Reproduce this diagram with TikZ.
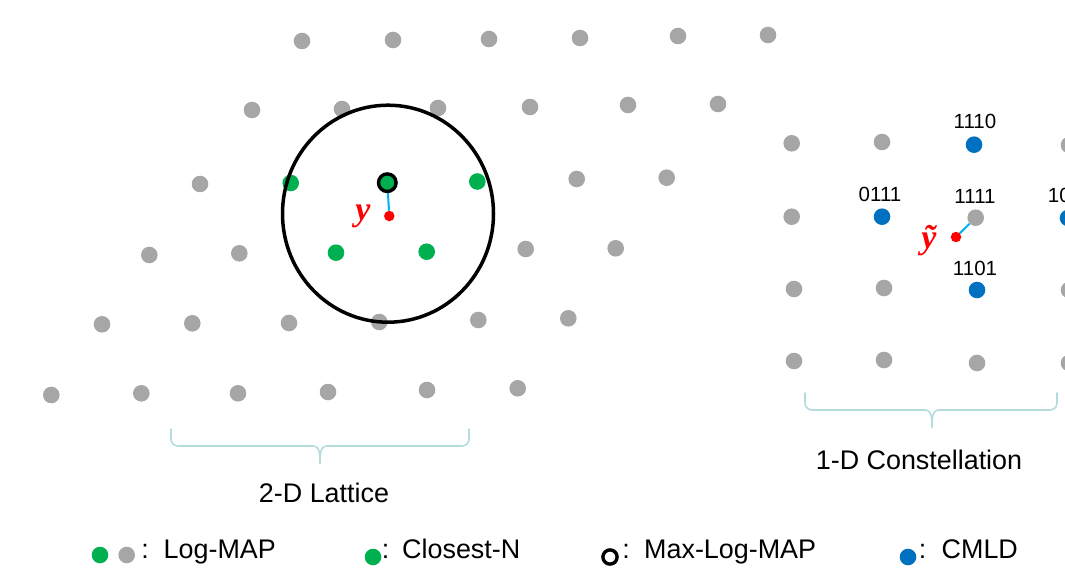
\documentclass[tikz,border=0pt]{standalone}
\usepackage{fontspec}
\setmainfont{Liberation Sans}
\newfontfamily\tnr{Liberation Serif}
\definecolor{dotgray}{HTML}{A6A6A6}
\definecolor{dotgreen}{HTML}{00B050}
\definecolor{dotblue}{HTML}{0070C0}
\definecolor{cyanline}{HTML}{00B0F0}
\definecolor{bracecol}{HTML}{B4DCDE}
\begin{document}
\begin{tikzpicture}[x=1pt,y=-1pt,
  gdot/.style={circle,fill=dotgray,inner sep=0,minimum size=16.6pt},
  grdot/.style={gdot,fill=dotgreen},
  bdot/.style={gdot,fill=dotblue},
  mlring/.style={circle,draw=black,line width=3.4pt,fill=dotgreen,inner sep=0,minimum size=17.6pt},
  legring/.style={circle,draw=black,line width=3.4pt,fill=white,inner sep=0,minimum size=14.2pt},
  rdot/.style={circle,fill=red,inner sep=0,minimum size=10.5pt},
  bigtxt/.style={font=\fontsize{26.9}{30}\selectfont,inner sep=0},
  numtxt/.style={font=\fontsize{20.5}{24}\selectfont,inner sep=0},
  ylab/.style={text=red,font=\fontsize{34}{38}\selectfont\tnr\bfseries\itshape,inner sep=0},
  conn/.style={cyanline,line width=2pt},
  bracepath/.style={bracecol,line width=1.6pt,line cap=round}]
\useasboundingbox (0,0) rectangle (1065,572);
\clip (0,0) rectangle (1065,572);

% ---- 2-D lattice ----
\node[gdot] (L11) at (302,41) {};
\node[gdot] (L12) at (393,40) {};
\node[gdot] (L13) at (489,39) {};
\node[gdot] (L14) at (580,38) {};
\node[gdot] (L15) at (678,36) {};
\node[gdot] (L16) at (768,35) {};

\node[gdot] (L21) at (252,110) {};
\node[gdot] (L22) at (342,109) {};
\node[gdot] (L23) at (438,108) {};
\node[gdot] (L24) at (530,107) {};
\node[gdot] (L25) at (628,105) {};
\node[gdot] (L26) at (718,104) {};

\node[gdot]  (L31) at (200,184) {};
\node[grdot] (L32) at (290.7,183) {};
\node[mlring] (L33) at (387.3,182.7) {};
\node[grdot] (L34) at (477.3,181.5) {};
\node[gdot]  (L35) at (576.7,179) {};
\node[gdot]  (L36) at (666.7,177.7) {};

\node[gdot]  (L41) at (149.3,255) {};
\node[gdot]  (L42) at (239.3,253.3) {};
\node[grdot] (L43) at (336,252.7) {};
\node[grdot] (L44) at (426.7,251.7) {};
\node[gdot]  (L45) at (525.7,249) {};
\node[gdot]  (L46) at (615.7,248.3) {};

\node[gdot] (L51) at (102,324.3) {};
\node[gdot] (L52) at (192.3,323.3) {};
\node[gdot] (L53) at (289,323) {};
\node[gdot] (L54) at (379.3,322) {};
\node[gdot] (L55) at (478.3,320) {};
\node[gdot] (L56) at (568.3,318.3) {};

\node[gdot] (L61) at (51.3,395) {};
\node[gdot] (L62) at (141.3,393.3) {};
\node[gdot] (L63) at (238,393.3) {};
\node[gdot] (L64) at (328,392) {};
\node[gdot] (L65) at (427,390) {};
\node[gdot] (L66) at (517.7,388.3) {};

% sphere
\draw[line width=3.5pt] (388,213.7) ellipse [x radius=105.5pt, y radius=108.5pt];

% received point y
\node[rdot] (y) at (389.3,216) {};
\draw[conn] (L33) -- (y);
\node[ylab] (ylabel) at (363,216) {y};

% ---- 1-D constellation ----
\node[gdot] (C11) at (791.7,143.3) {};
\node[gdot] (C12) at (882,142) {};
\node[bdot] (C13) at (974,144.7) {};
\node[gdot] (C14) at (1069,145) {};

\node[gdot] (C21) at (791.7,216.7) {};
\node[bdot] (C22) at (882,216.7) {};
\node[gdot] (C23) at (975.7,217.7) {};
\node[bdot] (C24) at (1068,218) {};

\node[gdot] (C31) at (794,289) {};
\node[gdot] (C32) at (884,288) {};
\node[bdot] (C33) at (977,290) {};
\node[gdot] (C34) at (1069,290) {};

\node[gdot] (C41) at (794,361) {};
\node[gdot] (C42) at (884,360) {};
\node[gdot] (C43) at (977,363) {};
\node[gdot] (C44) at (1069,363) {};

\node[numtxt] (t1110) at (975,121) {1110};
\node[numtxt] (t0111) at (880,194.3) {0111};
\node[numtxt] (t1111) at (975,196.7) {1111};
\node[numtxt] (t1101) at (975,268.3) {1101};
\node[numtxt] (t1011) at (1070,195) {1011};

\node[rdot] (yt) at (956,237) {};
\draw[conn] (yt) -- (C23);
\node[ylab] (ytlabel) at (929,241) {ỹ};

% ---- braces ----
\coordinate (bl1) at (171,429);
\coordinate (bl2) at (469,429);
\coordinate (bltip) at (320,463);
\draw[bracepath] (bl1) -- (171,439) to[out=-90,in=180] (178,446) -- (313,446) to[out=0,in=90] (bltip);
\draw[bracepath] (bl2) -- (469,439) to[out=-90,in=0] (462,446) -- (327,446) to[out=180,in=90] (bltip);

\coordinate (br1) at (805,393);
\coordinate (br2) at (1057,393);
\coordinate (brtip) at (932,427);
\draw[bracepath] (br1) -- (805,403) to[out=-90,in=180] (812,410) -- (925,410) to[out=0,in=90] (brtip);
\draw[bracepath] (br2) -- (1057,403) to[out=-90,in=0] (1050,410) -- (939,410) to[out=180,in=90] (brtip);

\node[bigtxt,anchor=base] (lat) at (324,502.5) {2-D Lattice};
\node[bigtxt,anchor=base] (con) at (919,469.5) {1-D Constellation};

% ---- legend ----
\node[grdot] (lg1a) at (100,555) {};
\node[gdot]  (lg1b) at (126.7,555) {};
\node[bigtxt,anchor=base] (lc1) at (145,558) {:};
\node[bigtxt,anchor=base west] (lt1) at (163.5,558) {Log-MAP};

\node[grdot] (lg2) at (373,557) {};
\node[bigtxt,anchor=base] (lc2) at (385.5,558) {:};
\node[bigtxt,anchor=base west] (lt2) at (402,558) {Closest-N};

\node[legring] (lg3) at (610,557) {};
\node[bigtxt,anchor=base] (lc3) at (626,558) {:};
\node[bigtxt,anchor=base west] (lt3) at (644,558) {Max-Log-MAP};

\node[bdot] (lg4) at (908,557) {};
\node[bigtxt,anchor=base] (lc4) at (922.5,558) {:};
\node[bigtxt,anchor=base west] (lt4) at (941.5,558) {CMLD};
\end{tikzpicture}
\end{document}
